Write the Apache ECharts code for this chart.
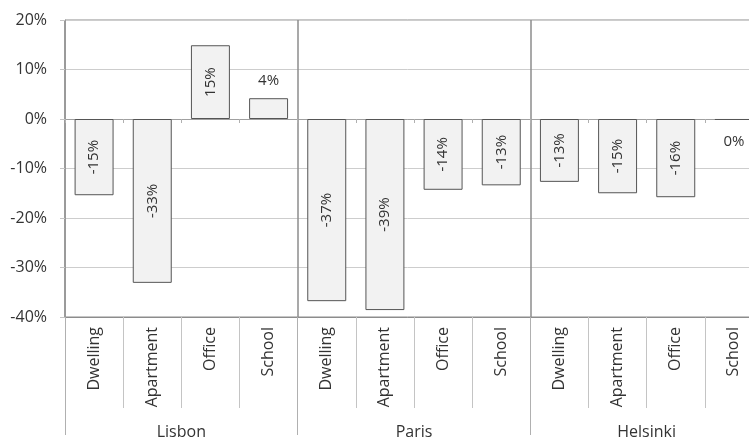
<!DOCTYPE html>
<html>
<head>
<meta charset="utf-8">
<script src="https://cdn.jsdelivr.net/npm/echarts@6/dist/echarts.min.js"></script>
<style>
html,body{margin:0;padding:0;background:#fff;}
#chart{width:749px;height:439px;}
</style>
</head>
<body>
<div id="chart"></div>
<script>
// ---- data ----
const cities = ['Lisbon', 'Paris', 'Helsinki'];
const buildingTypes = ['Dwelling', 'Apartment', 'Office', 'School'];
const lisbonValues = [-15.4, -33.1, 14.9, 4.2];
const parisValues = [-36.8, -38.6, -14.3, -13.4];
const helsinkiValues = [-12.7, -15.0, -15.8, -0.2];
const yTicks = [-40, -30, -20, -10, 0, 10, 20];

// ---- build ----
const categories = cities.flatMap(() => buildingTypes);
const allValues = [].concat(lisbonValues, parisValues, helsinkiValues);
const FONT = 'Open Sans';

const seriesData = allValues.map(v => {
  if (Math.abs(v) < 5) {
    return {
      value: v,
      label: {
        rotate: 0,
        position: v >= 0 ? 'top' : 'bottom',
        distance: v >= 0 ? 10 : 14
      }
    };
  }
  return v;
});

const chart = echarts.init(document.getElementById('chart'), null, {renderer: 'canvas'});
chart.setOption({
  animation: false,
  backgroundColor: '#ffffff',
  textStyle: {fontFamily: FONT},
  grid: {
    left: 65, width: 698, top: 20, bottom: 122,
    outerBoundsMode: 'none',
    containLabel: false,
    show: true, borderColor: '#8c8c8c', borderWidth: 1, backgroundColor: 'transparent'
  },
  xAxis: [
    {
      type: 'category',
      data: categories,
      position: 'bottom',
      axisLine: {show: true, onZero: false, lineStyle: {color: '#8c8c8c', width: 1}},
      axisTick: {show: true, interval: 0, length: 91, lineStyle: {color: '#c4c4c4'}},
      axisLabel: {interval: 0, rotate: 90, margin: 10, fontSize: 16, color: '#333', fontFamily: FONT},
      splitLine: {show: false}
    },
    {
      type: 'category',
      data: cities,
      position: 'bottom',
      axisLine: {show: false, onZero: false},
      axisTick: {show: true, interval: 0, length: 118, lineStyle: {color: '#b0b0b0'}},
      axisLabel: {interval: 0, margin: 107, fontSize: 16, color: '#333', fontFamily: FONT},
      splitLine: {show: true, interval: 0, lineStyle: {color: '#8c8c8c', width: 1.5}}
    },
    {
      type: 'category',
      data: categories,
      position: 'bottom',
      axisLine: {show: true, onZero: true, lineStyle: {color: '#a0a0a0', width: 1}},
      axisTick: {show: true, interval: 0, length: 4, lineStyle: {color: '#b0b0b0'}},
      axisLabel: {show: false},
      splitLine: {show: false}
    }
  ],
  yAxis: {
    type: 'value',
    min: yTicks[0],
    max: yTicks[yTicks.length - 1],
    interval: 10,
    axisLine: {show: true, lineStyle: {color: '#9a9a9a'}},
    axisTick: {show: true, length: 5, lineStyle: {color: '#c4c4c4'}},
    axisLabel: {formatter: '{value}%', fontSize: 16, color: '#333', margin: 18, fontFamily: FONT},
    splitLine: {show: true, lineStyle: {color: '#cdcdcd', width: 1}}
  },
  series: [
    {
      type: 'bar',
      xAxisIndex: 0,
      data: seriesData,
      barCategoryGap: '33%',
      itemStyle: {color: '#f2f2f2', borderColor: '#555', borderWidth: 1},
      label: {
        show: true,
        position: 'inside',
        rotate: 90,
        fontSize: 15,
        color: '#333',
        fontFamily: FONT,
        formatter: p => Math.round(p.value) + '%'
      }
    }
  ]
});
</script>
</body>
</html>
